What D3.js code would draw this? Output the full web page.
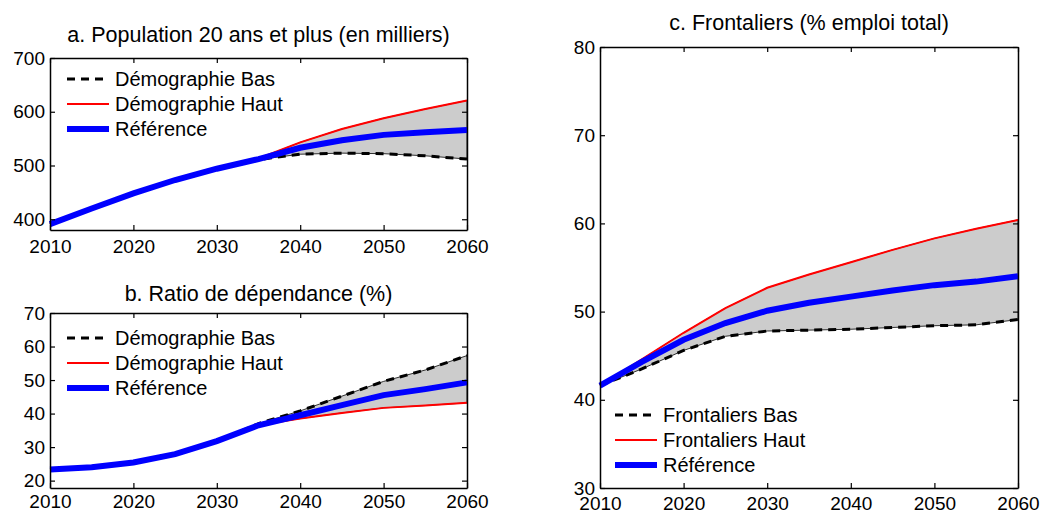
<!DOCTYPE html>
<html>
<head>
<meta charset="utf-8">
<script src="https://cdn.jsdelivr.net/npm/d3@7"></script>
<style>
  body { margin: 0; background: #fff; }
  svg { display: block; font-family: "Liberation Sans", Arial, sans-serif; }
</style>
</head>
<body>
<svg id="chart" width="1041" height="513"></svg>
<script>
const years = [2010, 2015, 2020, 2025, 2030, 2035, 2040, 2045, 2050, 2055, 2060];
const xTicks = [2010, 2020, 2030, 2040, 2050, 2060];

// a. population 20+ (thousands)
const popRef  = [391, 420, 448, 473, 494, 512, 533, 547, 557, 562, 566];
const popHaut = [391, 420, 448, 473, 494, 513, 543, 568, 588, 605, 621];
const popBas  = [391, 420, 448, 473, 494, 511, 521, 523, 522, 518, 512];

// b. dependency ratio (%)
const depRef  = [23.3, 24.0, 25.4, 27.9, 31.8, 36.5, 39.5, 42.5, 45.5, 47.3, 49.3];
const depHaut = [23.3, 24.0, 25.4, 27.9, 31.8, 36.5, 38.5, 40.2, 41.7, 42.4, 43.2];
const depBas  = [23.3, 24.0, 25.4, 27.9, 31.8, 37.0, 40.8, 45.2, 49.6, 53.0, 57.3];

// c. cross-border workers (% total employment)
const froRef  = [41.6, 44.3, 46.8, 48.7, 50.1, 51.0, 51.7, 52.4, 53.0, 53.4, 54.0];
const froHaut = [41.6, 44.6, 47.6, 50.4, 52.7, 54.2, 55.6, 57.0, 58.3, 59.4, 60.4];
const froBas  = [41.6, 43.5, 45.6, 47.2, 47.8, 47.9, 48.0, 48.2, 48.4, 48.5, 49.1];

const panels = [
  {title: "a.  Population 20 ans et plus (en milliers)", ref: popRef, haut: popHaut, bas: popBas,
   yDomain: [380, 700], yTicks: [400, 500, 600, 700],
   box: {x0: 50, x1: 467, y0: 58, y1: 230}, titleY: 42, xPad: 10,
   legend: ["Démographie Bas", "Démographie Haut", "Référence"], legX: 67, legY: 79},
  {title: "b.  Ratio de dépendance (%)", ref: depRef, haut: depHaut, bas: depBas,
   yDomain: [17.8, 70], yTicks: [20, 30, 40, 50, 60, 70],
   box: {x0: 50, x1: 467, y0: 313, y1: 488}, titleY: 301, xPad: 7,
   legend: ["Démographie Bas", "Démographie Haut", "Référence"], legX: 67, legY: 338},
  {title: "c. Frontaliers (% emploi total)", ref: froRef, haut: froHaut, bas: froBas,
   yDomain: [30, 80], yTicks: [30, 40, 50, 60, 70, 80],
   box: {x0: 600, x1: 1018, y0: 47, y1: 488}, titleY: 30, xPad: 9,
   legend: ["Frontaliers Bas", "Frontaliers Haut", "Référence"], legX: 615, legY: 415}
];

const svg = d3.select("#chart");
svg.append("rect").attr("width", 1041).attr("height", 513).attr("fill", "#fff");

panels.forEach(p => {
  const b = p.box;
  const x = d3.scaleLinear().domain([2010, 2060]).range([b.x0, b.x1]);
  const y = d3.scaleLinear().domain(p.yDomain).range([b.y1, b.y0]);
  const g = svg.append("g");
  const rows = years.map((yr, i) => ({yr, ref: p.ref[i], haut: p.haut[i], bas: p.bas[i]}));

  g.append("path")
    .datum(rows)
    .attr("fill", "#cccccc")
    .attr("stroke", "#000")
    .attr("stroke-width", 0.8)
    .attr("d", d3.area().x(d => x(d.yr)).y0(d => y(d.bas)).y1(d => y(d.haut)));

  const line = key => d3.line().x(d => x(d.yr)).y(d => y(d[key]));
  g.append("path").datum(rows).attr("fill", "none").attr("stroke", "#000")
    .attr("stroke-width", 3).attr("stroke-dasharray", "8,6").attr("d", line("bas"));
  g.append("path").datum(rows).attr("fill", "none").attr("stroke", "#ff0000")
    .attr("stroke-width", 2).attr("d", line("haut"));
  g.append("path").datum(rows).attr("fill", "none").attr("stroke", "#0000ff")
    .attr("stroke-width", 6).attr("d", line("ref"));

  // box with inward ticks (MATLAB style)
  const ax = svg.append("g");
  ax.append("g").attr("transform", `translate(0,${b.y1})`)
    .call(d3.axisBottom(x).tickValues(xTicks).tickFormat(d3.format("d")).tickSizeInner(-5).tickSizeOuter(0).tickPadding(p.xPad));
  ax.append("g").attr("transform", `translate(0,${b.y0})`)
    .call(d3.axisTop(x).tickValues(xTicks).tickFormat("").tickSizeInner(-5).tickSizeOuter(0));
  ax.append("g").attr("transform", `translate(${b.x0},0)`)
    .call(d3.axisLeft(y).tickValues(p.yTicks).tickSizeInner(-5).tickSizeOuter(0).tickPadding(5));
  ax.append("g").attr("transform", `translate(${b.x1},0)`)
    .call(d3.axisRight(y).tickValues(p.yTicks).tickFormat("").tickSizeInner(-5).tickSizeOuter(0));
  ax.selectAll(".domain").attr("stroke", "#000").attr("stroke-width", 1.5);
  ax.selectAll(".tick line").attr("stroke", "#000").attr("stroke-width", 1.2);
  ax.selectAll("g").attr("font-size", null).attr("font-family", null);
  ax.selectAll("text").attr("font-size", 19).attr("fill", "#000");

  svg.append("text")
    .attr("x", (b.x0 + b.x1) / 2).attr("y", p.titleY)
    .attr("text-anchor", "middle").attr("font-size", 21.5)
    .text(p.title);

  // legend
  const styles = [
    {stroke: "#000", w: 3, dash: "8,6"},
    {stroke: "#ff0000", w: 2, dash: null},
    {stroke: "#0000ff", w: 6, dash: null}
  ];
  p.legend.forEach((lab, i) => {
    const ly = p.legY + i * 25;
    svg.append("line")
      .attr("x1", p.legX).attr("x2", p.legX + 42).attr("y1", ly).attr("y2", ly)
      .attr("stroke", styles[i].stroke).attr("stroke-width", styles[i].w)
      .attr("stroke-dasharray", styles[i].dash);
    svg.append("text")
      .attr("x", p.legX + 48).attr("y", ly).attr("dy", "0.35em")
      .attr("font-size", 20).text(lab);
  });
});
</script>
</body>
</html>
